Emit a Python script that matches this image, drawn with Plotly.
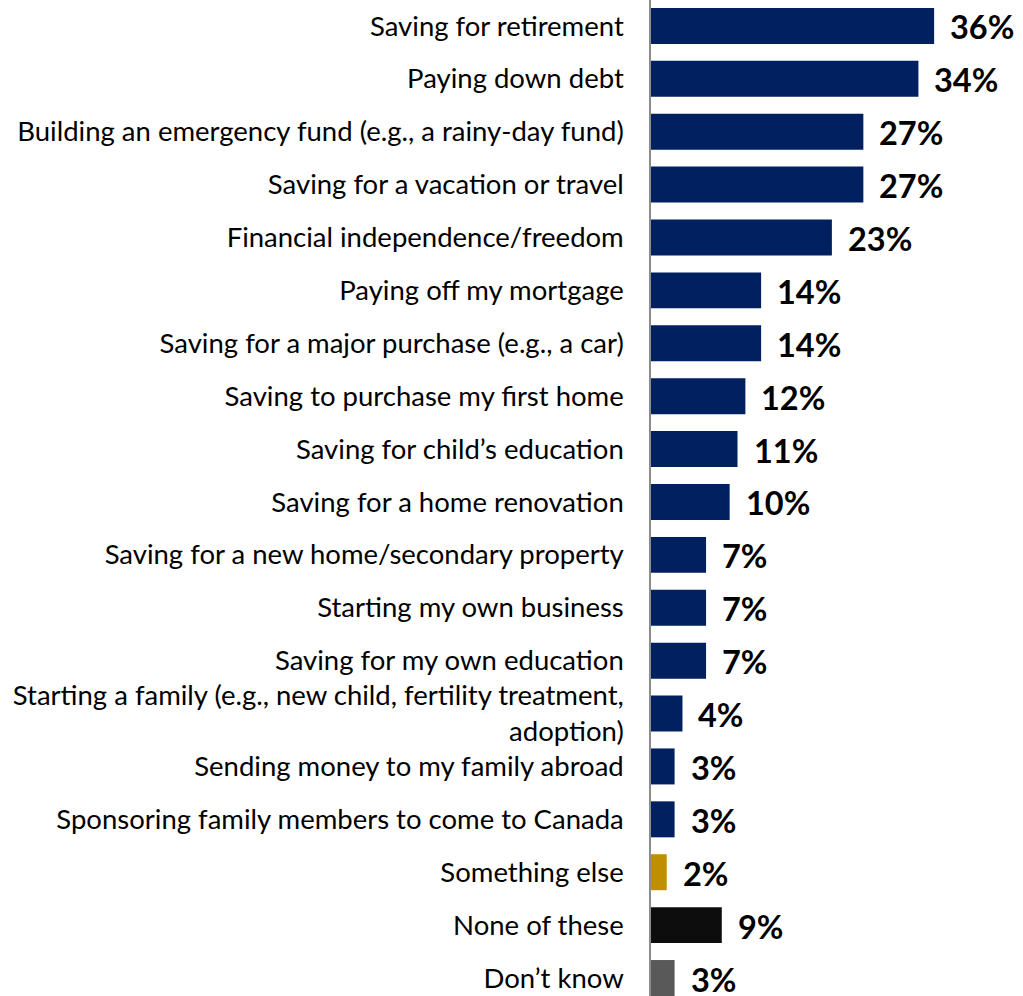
import plotly.graph_objects as go

# Financial goals, share of respondents (%)
categories = [
    "Saving for retirement",
    "Paying down debt",
    "Building an emergency fund (e.g., a rainy-day fund)",
    "Saving for a vacation or travel",
    "Financial independence/freedom",
    "Paying off my mortgage",
    "Saving for a major purchase (e.g., a car)",
    "Saving to purchase my first home",
    "Saving for child’s education",
    "Saving for a home renovation",
    "Saving for a new home/secondary property",
    "Starting my own business",
    "Saving for my own education",
    "Starting a family (e.g., new child, fertility treatment,<br>adoption)",
    "Sending money to my family abroad",
    "Sponsoring family members to come to Canada",
    "Something else",
    "None of these",
    "Don’t know",
]
values = [36, 34, 27, 27, 23, 14, 14, 12, 11, 10, 7, 7, 7, 4, 3, 3, 2, 9, 3]

NAVY = "#002060"
special_colors = {
    "Something else": "#BF8F00",
    "None of these": "#0D0D0D",
    "Don’t know": "#595959",
}
bar_colors = [special_colors.get(c, NAVY) for c in categories]

fig = go.Figure(
    go.Bar(
        x=values,
        y=categories,
        orientation="h",
        marker=dict(color=bar_colors, line=dict(width=0)),
        hoverinfo="skip",
    )
)

# Bold value labels just past the end of each bar
for cat, val in zip(categories, values):
    fig.add_annotation(
        x=val,
        y=cat,
        text=f"<b>{val}%</b>",
        showarrow=False,
        xanchor="left",
        yanchor="middle",
        xshift=14,
        yshift=-1,
        font=dict(family="Lato", size=32.5, color="#000000"),
    )

fig.update_layout(
    width=1023,
    height=996,
    margin=dict(l=651, r=0, t=0, b=0, autoexpand=False),
    paper_bgcolor="white",
    plot_bgcolor="white",
    bargap=0.32,
    showlegend=False,
    font=dict(family="Lato", color="#000000"),
)
fig.update_xaxes(
    range=[0, 47.3],
    visible=False,
    showgrid=False,
    zeroline=False,
)
fig.update_yaxes(
    type="category",
    categoryorder="array",
    categoryarray=categories,
    range=[18.34, -0.49],
    automargin=False,
    showgrid=False,
    zeroline=False,
    showline=True,
    linecolor="#8C8C8C",
    linewidth=1.5,
    ticks="",
    ticklabelstandoff=20,
    tickfont=dict(family="Lato", size=27.5, color="#000000"),
)

fig.write_html("out.html")
